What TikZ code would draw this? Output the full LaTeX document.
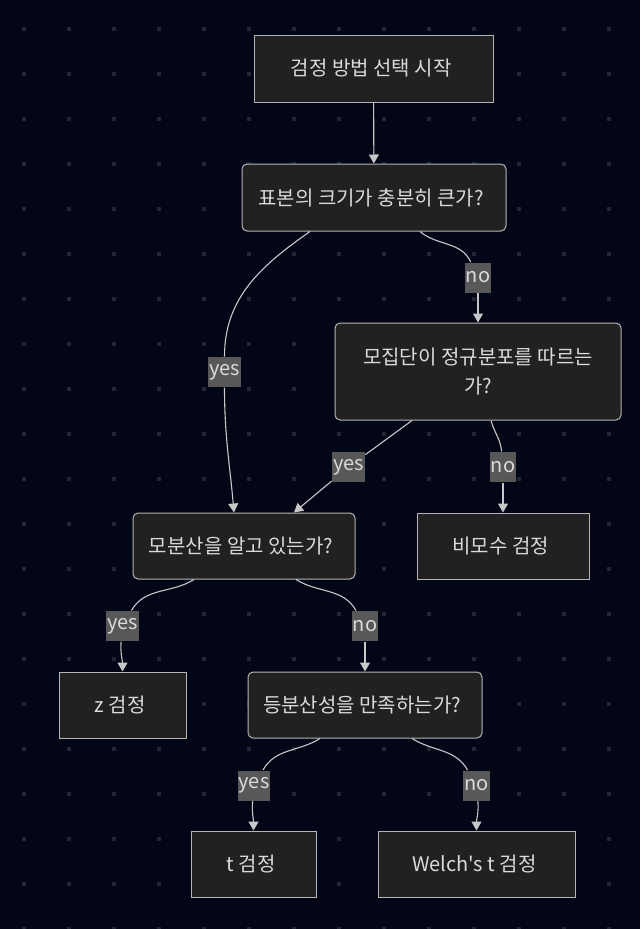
\documentclass[tikz,border=0pt]{standalone}
\usepackage{fontspec}
\setmainfont{Noto Sans CJK KR}[Ligatures=TeXOff]
\usetikzlibrary{arrows.meta}
\usepackage{xcolor}

\definecolor{bgnavy}{HTML}{020617}
\definecolor{griddot}{HTML}{222633}
\definecolor{nodefill}{HTML}{212121}
\definecolor{nodeborder}{HTML}{B5B5B5}
\definecolor{nodetext}{HTML}{DADADA}
\definecolor{edgeline}{HTML}{C8C8C8}
\definecolor{labelfill}{HTML}{585858}

\begin{document}
\begin{tikzpicture}[x=1pt, y=1pt, >={Triangle[length=9pt, width=10pt]},
every node/.style={
    rectangle,
    rounded corners=5pt,
    inner sep=3pt,
    draw=nodeborder,
    line width=1pt,
    fill=nodefill,
    text=nodetext,
    align=center,
    font=\fontsize{20}{29.5}\selectfont
},
edge_label/.style={sharp corners, draw=none, fill=labelfill, inner xsep=1pt, inner ysep=0pt, minimum height=30pt},
flow/.style={->, edgeline, line width=1.1pt}]

    \fill[bgnavy] (0,0) rectangle (640,-929);
    \useasboundingbox (0,0) rectangle (640,-929);

    % dot grid
    \foreach \i in {0,...,13}
        \foreach \j in {0,...,20}
            \fill[griddot] (22.25+45*\i, -27.25-45*\j) rectangle ++(3.5,-3.5);



    \node (test_selection_start) [sharp corners, minimum width=239pt, minimum height=67pt, shift={(373.5, -68.5)}]
    {
        검정 방법 선택 시작
    };

    \node (sample_size_large) [minimum width=264pt, minimum height=67pt, shift={(374, -197.5)}]
    {
        표본의 크기가 충분히 큰가?
    };

    \node (population_normal) [minimum width=286pt, minimum height=97pt, shift={(478, -371.5)}]
    {
        모집단이 정규분포를 따르는\\가?
    };

    \node (variance_known) [minimum width=222pt, minimum height=66pt, shift={(244, -546)}]
    {
        모분산을 알고 있는가?
    };

    \node (nonparametric_test) [sharp corners, minimum width=172pt, minimum height=66pt, shift={(503, -546)}]
    {
        비모수 검정
    };

    \node (z_test) [sharp corners, minimum width=127pt, minimum height=66pt, shift={(122.5, -705)}]
    {
        z 검정
    };

    \node (equal_variance) [minimum width=234pt, minimum height=66pt, shift={(365, -705)}]
    {
        등분산성을 만족하는가?
    };

    \node (t_test) [sharp corners, minimum width=125pt, minimum height=66pt, shift={(253.5, -864)}]
    {
        t 검정
    };

    \node (welch_t_test) [sharp corners, minimum width=197pt, minimum height=66pt, shift={(476.5, -864)}]
    {
        Welch's t 검정
    };





    \node (yes_sample_size) [edge_label, shift={(224.5, -372)}] {yes};
    \node (no_sample_size) [edge_label, shift={(478, -277.5)}] {no};
    \node (yes_population_normal) [edge_label, shift={(348.5, -467)}] {yes};
    \node (no_population_normal) [edge_label, shift={(503, -467)}] {no};
    \node (yes_variance_known) [edge_label, shift={(122.5, -626)}] {yes};
    \node (no_variance_known) [edge_label, shift={(365, -626)}] {no};
    \node (yes_equal_variance) [edge_label, shift={(254, -785.5)}] {yes};
    \node (no_equal_variance) [edge_label, shift={(476.5, -785.5)}] {no};


    \draw[flow] (test_selection_start) -- (sample_size_large);

    \draw[edgeline, line width=1.1pt] ([xshift=-64pt]sample_size_large.south) to[out=-145, in=90] (yes_sample_size);
    \draw[flow] (yes_sample_size) to[out=-90, in=95] ([xshift=-10pt]variance_known.north);
    \draw[edgeline, line width=1.1pt] ([xshift=46pt]sample_size_large.south) to[out=-40, in=115] (no_sample_size);
    \draw[flow] (no_sample_size) -- (population_normal);

    \draw[edgeline, line width=1.1pt] ([xshift=-66pt]population_normal.south) -- (yes_population_normal);
    \draw[flow] (yes_population_normal) -- ([xshift=50pt]variance_known.north);
    \draw[edgeline, line width=1.1pt] ([xshift=13pt]population_normal.south) to[out=-75, in=95] (no_population_normal);
    \draw[flow] (no_population_normal) -- (nonparametric_test);

    \draw[edgeline, line width=1.1pt] ([xshift=-50pt]variance_known.south) to[out=-148, in=60] (yes_variance_known);
    \draw[flow] (yes_variance_known) to[out=-95, in=90] (z_test);
    \draw[edgeline, line width=1.1pt] ([xshift=52pt]variance_known.south) to[out=-32, in=120] (no_variance_known);
    \draw[flow] (no_variance_known) -- (equal_variance);

    \draw[edgeline, line width=1.1pt] ([xshift=-45pt]equal_variance.south) to[out=-148, in=60] (yes_equal_variance);
    \draw[flow] (yes_equal_variance) to[out=-95, in=90] (t_test);
    \draw[edgeline, line width=1.1pt] ([xshift=47pt]equal_variance.south) to[out=-32, in=120] (no_equal_variance);
    \draw[flow] (no_equal_variance) to[out=-85, in=90] (welch_t_test);


\end{tikzpicture}
\end{document}
